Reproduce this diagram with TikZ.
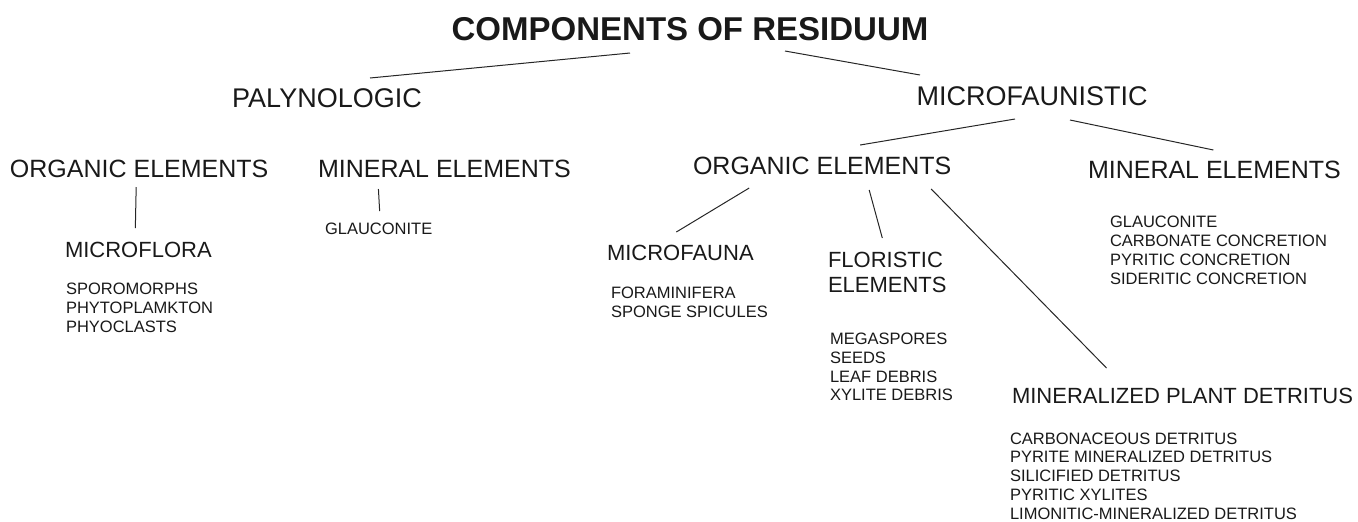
\documentclass[tikz,border=0pt]{standalone}
\usepackage{fontspec}
\setmainfont{Liberation Sans}
\begin{document}
\begin{tikzpicture}[x=0.5pt,y=-0.5pt,
  every node/.style={inner sep=0pt, outer sep=0pt, text=black!90},
  ttl/.style={font=\fontsize{16.5}{20}\selectfont\bfseries},
  lvA/.style={font=\fontsize{13.5}{16}\selectfont},
  lvB/.style={font=\fontsize{12.5}{15}\selectfont},
  lvC/.style={font=\fontsize{11}{12.5}\selectfont},
  lst/.style={font=\fontsize{8.25}{9.4}\selectfont, align=left, anchor=west},
  conn/.style={draw=black!85, line width=0.5pt}]
\useasboundingbox (0,0) rectangle (1358,521);
% title and first level
\node[ttl] (title) at (690,29) {COMPONENTS OF RESIDUUM};
\node[lvA] (paly) at (327,98) {PALYNOLOGIC};
\node[lvA] (micro) at (1032,96) {MICROFAUNISTIC};
% second level
\node[lvB, anchor=west] (orgL) at (10,169) {ORGANIC ELEMENTS};
\node[lvB, anchor=west] (minL) at (318,169) {MINERAL ELEMENTS};
\node[lvB, anchor=west] (orgM) at (693,166) {ORGANIC ELEMENTS};
\node[lvB, anchor=west] (minR) at (1088,170) {MINERAL ELEMENTS};
% third level
\node[lvC, anchor=west] (mflora) at (65,250) {MICROFLORA};
\node[lst] (glaucL) at (325,229) {GLAUCONITE};
\node[lvC, anchor=west] (mfauna) at (607,253) {MICROFAUNA};
\node[lvC, align=left, anchor=west] (flor) at (828,272.5) {FLORISTIC\\ELEMENTS};
\node[lvC, anchor=west] (mpd) at (1012,396) {MINERALIZED PLANT DETRITUS};
% lists
\node[lst] (listL) at (66,308) {SPOROMORPHS\\PHYTOPLAMKTON\\PHYOCLASTS};
\node[lst] (listFa) at (611,302.5) {FORAMINIFERA\\SPONGE SPICULES};
\node[lst] (listFl) at (830,367) {MEGASPORES\\SEEDS\\LEAF DEBRIS\\XYLITE DEBRIS};
\node[lst] (listR) at (1110,250.5) {GLAUCONITE\\CARBONATE CONCRETION\\PYRITIC CONCRETION\\SIDERITIC CONCRETION};
\node[lst] (listD) at (1010,476) {CARBONACEOUS DETRITUS\\PYRITE MINERALIZED DETRITUS\\SILICIFIED DETRITUS\\PYRITIC XYLITES\\LIMONITIC-MINERALIZED DETRITUS};
% connectors
\draw[conn] ([shift={(-60,24)}]title.center) -- ([shift={(43,-20)}]paly.center);
\draw[conn] ([shift={(95,22)}]title.center) -- ([shift={(-112,-21)}]micro.center);
\draw[conn] ([shift={(-17,23)}]micro.center) -- ([shift={(38,-21)}]orgM.center);
\draw[conn] ([shift={(38,24)}]micro.center) -- ([shift={(-1,-20)}]minR.center);
\draw[conn] ([shift={(-3,18)}]orgL.center) -- ([shift={(-3,-22)}]mflora.center);
\draw[conn] ([shift={(-66,20)}]minL.center) -- ([shift={(1,-18)}]glaucL.center);
\draw[conn] ([shift={(-73,22)}]orgM.center) -- ([shift={(-4,-21)}]mfauna.center);
\draw[conn] ([shift={(47,24)}]orgM.center) -- ([shift={(-5,-34.5)}]flor.center);
\draw[conn] ([shift={(109,23)}]orgM.center) -- ([shift={(-76,-28)}]mpd.center);
\end{tikzpicture}
\end{document}
